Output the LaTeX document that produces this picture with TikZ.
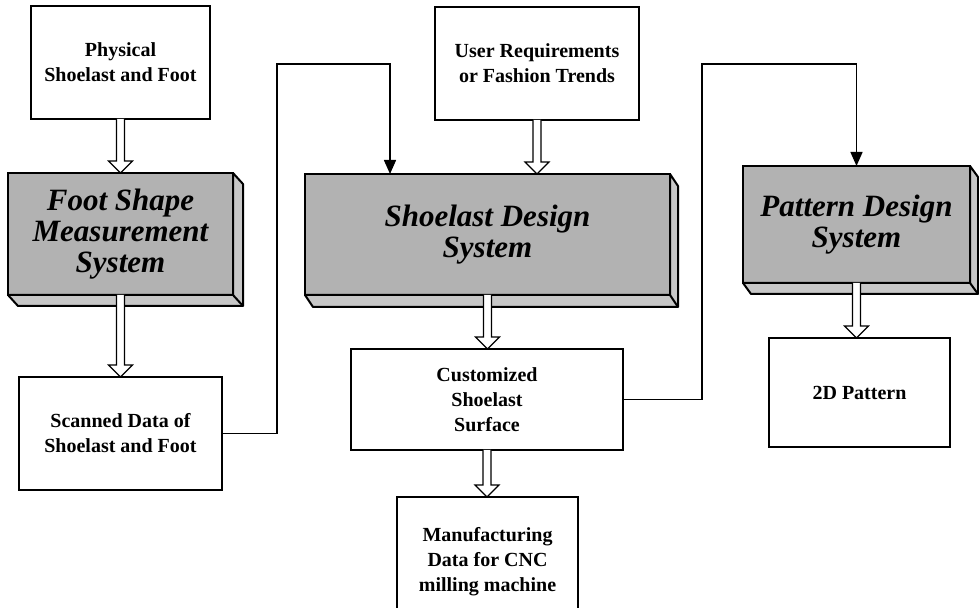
\documentclass[tikz,border=0pt]{standalone}
\usepackage{fontspec}
\setmainfont{Liberation Serif}
\usetikzlibrary{arrows.meta}
\usetikzlibrary{calc}

% right and bottom faces of a system block
\newcommand{\bevel}[3]{%
  \path[side face] (#1.north east) -- ++(#2,#3) |- ([shift={(#2,#3)}]#1.south west)
     -- (#1.south west) -- (#1.south east) -- cycle;
  \draw[line width=1pt] (#1.south east) -- ++(#2,#3);}
% hollow block arrow from one box down to the next
\newcommand{\blockarrow}[2]{%
  \path[fat arrow] let \p1=(#1.south), \p2=(#1.south |- #2.north) in
    (\x1-2pt,\y1) -- (\x1-2pt,\y2+6pt) -- (\x1-6pt,\y2+6pt) -- (\x2,\y2)
    -- (\x1+6pt,\y2+6pt) -- (\x1+2pt,\y2+6pt) -- (\x1+2pt,\y1);}

\begin{document}
\begin{tikzpicture}[x=0.5pt,y=-0.5pt,
    label box/.style={rectangle,draw,line width=0.7pt,outer sep=0pt,align=center,
      font=\fontsize{10}{12.5}\selectfont\bfseries},
    sys block/.style={rectangle,draw,line width=1pt,fill=black!30,outer sep=0pt,align=center,
      font=\fontsize{15.5}{15.5}\selectfont\bfseries\itshape},
    side face/.style={draw,line width=1pt,fill=black!22,line join=round},
    link/.style={line width=0.75pt,-{Triangle[width=6pt,length=7pt]}},
    fat arrow/.style={draw,line width=0.6pt,fill=white}]
  \useasboundingbox (0,0) rectangle (979,608);

  % left column
  \node[label box,minimum width=89.5pt,minimum height=56.5pt] (phys) at (120.5,62.5) {Physical\\Shoelast and Foot};
  \node[sys block,minimum width=112.5pt,minimum height=61pt] (foot) at (120.5,234) {Foot Shape\\Measurement\\System};
  \bevel{foot}{10}{11}
  \node[label box,minimum width=101.5pt,minimum height=56.5pt] (scan) at (120.5,433.5) {Scanned Data of\\Shoelast and Foot};

  % middle column
  \node[label box,minimum width=102pt,minimum height=56.5pt] (user) at (537,63.5) {User Requirements\\or Fashion Trends};
  \node[sys block,minimum width=182.5pt,minimum height=60.5pt] (shoe) at (487.5,234.5) {Shoelast Design\\System};
  \bevel{shoe}{8}{12}
  \node[label box,minimum width=136pt,minimum height=50.5pt] (cust) at (487,399.5) {Customized\\Shoelast\\Surface};
  \node[label box,minimum width=90.5pt,minimum height=65pt] (manu) at (487.5,562) {Manufacturing\\Data for CNC\\milling machine};

  % right column
  \node[sys block,minimum width=113.5pt,minimum height=58.5pt] (patt) at (856.5,224.5) {Pattern Design\\System};
  \bevel{patt}{8}{11}
  \node[label box,minimum width=90.5pt,minimum height=54.5pt] (twoD) at (859.5,392.5) {2D Pattern};

  % hollow arrows
  \blockarrow{phys}{foot}
  \blockarrow{foot}{scan}
  \blockarrow{user}{shoe}
  \blockarrow{shoe}{cust}
  \blockarrow{cust}{manu}
  \blockarrow{patt}{twoD}

  % data links
  \coordinate (bend1) at (277,64);
  \coordinate (bend2) at (702,64);
  \draw[link] (scan.east) -| (bend1) -| ([xshift=42.5pt]shoe.north west);
  \draw[link] (cust.east) -| (bend2) -| (patt.north);
\end{tikzpicture}
\end{document}
